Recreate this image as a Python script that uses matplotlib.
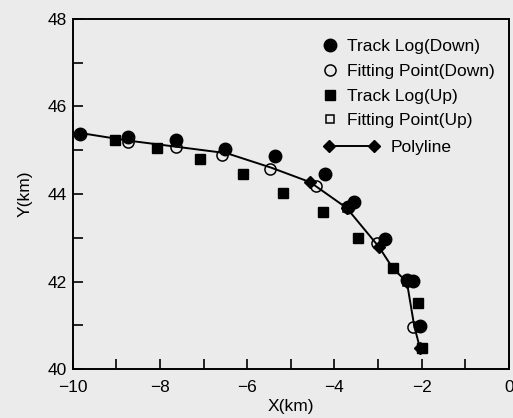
import matplotlib.pyplot as plt
from matplotlib.ticker import MultipleLocator

plt.rcParams['font.family'] = ['Liberation Sans', 'DejaVu Sans']

# Track Log (Down) - filled circles
down_x = [-9.84, -8.74, -7.64, -6.51, -5.37, -4.22, -3.55, -3.68, -2.84, -2.33, -2.20, -2.04]
down_y = [45.36, 45.30, 45.23, 45.02, 44.86, 44.45, 43.81, 43.70, 42.97, 42.03, 42.02, 40.98]

# Fitting Point (Down) - open circles
fitd_x = [-8.74, -7.64, -6.58, -5.48, -4.43, -3.03, -2.20]
fitd_y = [45.18, 45.07, 44.89, 44.57, 44.18, 42.88, 40.96]

# Track Log (Up) - filled squares
up_x = [-9.04, -8.07, -7.09, -6.10, -5.18, -4.27, -3.46, -2.66, -2.09, -2.00]
up_y = [45.23, 45.05, 44.80, 44.45, 44.02, 43.58, 42.99, 42.30, 41.50, 40.48]

# Fitting Point (Up) - open squares (mostly hidden under other marks)
fitu_x = [-3.72, -2.34]
fitu_y = [43.68, 41.99]

# Polyline vertices
poly_x = [-9.88, -8.74, -7.64, -6.47, -5.45, -4.56, -3.72, -2.98, -2.66, -2.34, -2.17, -2.04]
poly_y = [45.40, 45.22, 45.08, 44.93, 44.60, 44.27, 43.68, 42.79, 42.30, 41.99, 40.98, 40.48]
poly_marks = [5, 6, 7, 9, 11]

bg = '#ebebeb'
fig = plt.figure(figsize=(5.13, 4.18), dpi=100, facecolor=bg)
ax = fig.add_axes([0.142, 0.117, 0.850, 0.838], facecolor=bg)

line, = ax.plot(poly_x, poly_y, color='black', lw=1.4, marker='D', ms=6,
                markevery=poly_marks, label='Polyline')
h1, = ax.plot(down_x, down_y, 'o', color='black', ms=9, ls='none', label='Track Log(Down)')
h2, = ax.plot(fitd_x, fitd_y, 'o', mfc='none', mec='black', mew=1.1, ms=8, ls='none',
              label='Fitting Point(Down)')
h3, = ax.plot(up_x, up_y, 's', color='black', ms=6.5, ls='none', label='Track Log(Up)')
h4, = ax.plot(fitu_x, fitu_y, 's', mfc='none', mec='black', mew=1.1, ms=6, ls='none',
              label='Fitting Point(Up)')

ax.set_xlim(-10, 0)
ax.set_ylim(40, 48)
ax.xaxis.set_major_locator(MultipleLocator(2))
ax.xaxis.set_minor_locator(MultipleLocator(1))
ax.yaxis.set_major_locator(MultipleLocator(2))
ax.yaxis.set_minor_locator(MultipleLocator(1))
ax.tick_params(which='both', direction='in', top=False, right=False, labelsize=12.5, width=1.2,
               length=7)
ax.tick_params(axis='x', pad=8)
ax.tick_params(axis='y', pad=4)
for s in ax.spines.values():
    s.set_linewidth(1.4)

ax.set_xlabel('X(km)', fontsize=12.5, labelpad=3)
ax.set_ylabel('Y(km)', fontsize=12.5, labelpad=11)

leg1 = ax.legend(handles=[h1, h2, h3, h4], loc='upper left', bbox_to_anchor=(0.553, 0.962),
                 frameon=False, fontsize=12.5, handlelength=1.0, handletextpad=0.5,
                 labelspacing=0.55, borderaxespad=0)
ax.add_artist(leg1)
ax.legend(handles=[line], loc='upper left', bbox_to_anchor=(0.56, 0.674),
          frameon=False, fontsize=12.5, handlelength=3.2, handletextpad=0.63,
          numpoints=2, borderaxespad=0)

fig.savefig('out.png', dpi=100, facecolor=bg)
